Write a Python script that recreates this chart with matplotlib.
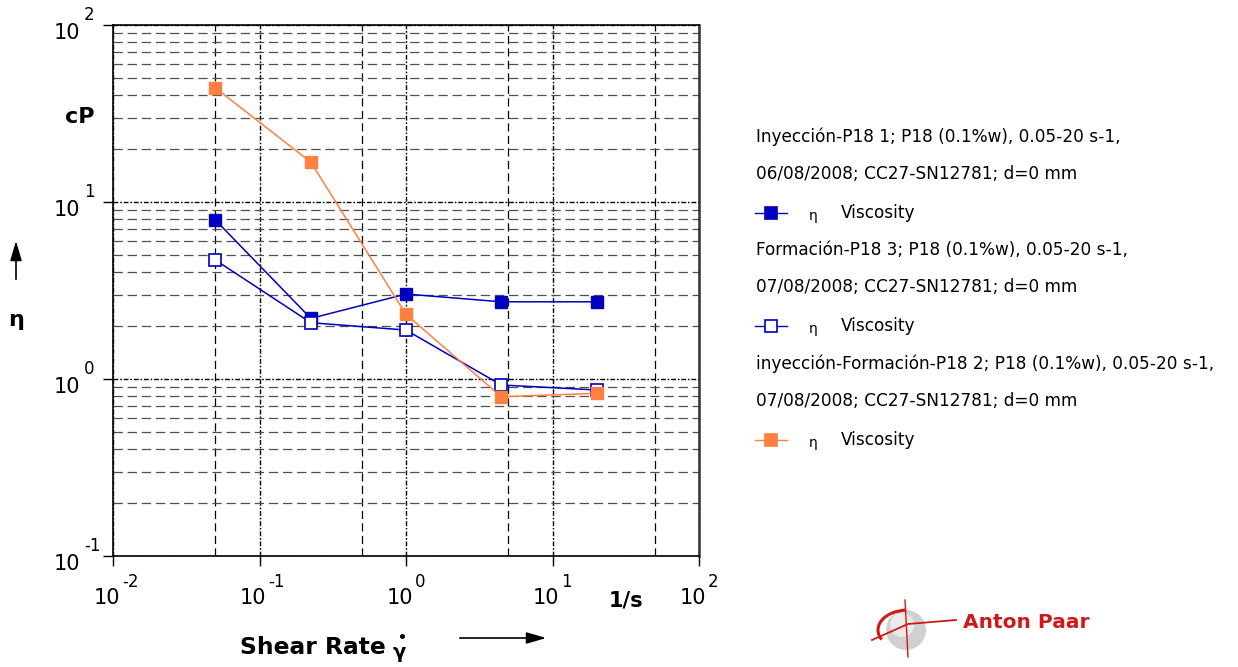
import numpy as np
import matplotlib
matplotlib.use('Agg')
import matplotlib.pyplot as plt
from matplotlib.ticker import LogLocator, FixedLocator, NullFormatter
from matplotlib.lines import Line2D
from matplotlib.patches import Circle, Arc

# ── Datos ─────────────────────────────────────────────────────────────────────
shear_rate = [0.05, 0.224, 1.0, 4.47, 20.0]            # 1/s
visc_iny   = [7.91, 2.20, 3.02, 2.73, 2.73]            # cP, Inyección-P18 1
visc_form  = [4.70, 2.08, 1.89, 0.925, 0.867]          # cP, Formación-P18 3
visc_mix   = [44.1, 16.8, 2.32, 0.794, 0.83]           # cP, inyección-Formación-P18 2

legend_lines = [
    ("Inyección-P18 1; P18 (0.1%w), 0.05-20 s-1,",
     "06/08/2008; CC27-SN12781; d=0 mm"),
    ("Formación-P18 3; P18 (0.1%w), 0.05-20 s-1,",
     "07/08/2008; CC27-SN12781; d=0 mm"),
    ("inyección-Formación-P18 2; P18 (0.1%w), 0.05-20 s-1,",
     "07/08/2008; CC27-SN12781; d=0 mm"),
]
x_exps = [-2, -1, 0, 1, 2]
y_exps = [-1, 0, 1, 2]

BLUE = '#0000BF'
ORANGE = '#FF8040'
W, H = 1238, 667

fig = plt.figure(figsize=(W / 100, H / 100), dpi=100)
ax = fig.add_axes([113 / W, 1 - 556 / H, (699 - 113) / W, (556 - 25) / H])
ax.set_xscale('log')
ax.set_yscale('log')
ax.set_xlim(1e-2, 1e2)
ax.set_ylim(1e-1, 1e2)

ax.xaxis.set_major_locator(FixedLocator([10.0 ** e for e in x_exps]))
ax.yaxis.set_major_locator(FixedLocator([10.0 ** e for e in y_exps]))
ax.xaxis.set_minor_locator(FixedLocator([0.05, 0.5, 5, 50]))
ax.yaxis.set_minor_locator(LogLocator(base=10, subs=np.arange(2, 10), numticks=20))
ax.xaxis.set_minor_formatter(NullFormatter())
ax.yaxis.set_minor_formatter(NullFormatter())
ax.tick_params(which='major', direction='out', length=7.5, width=1,
               labelleft=False, labelbottom=False)
ax.tick_params(which='minor', length=0)

# rejilla
ax.grid(which='major', color='black', lw=1.0, ls=(0, (3.5, 1.3, 1.2, 1.3)))
ax.xaxis.grid(which='minor', color='black', lw=0.9, ls=(0, (6.5, 3.5)))
ax.yaxis.grid(which='minor', color='#505050', lw=0.9, ls=(0, (7.5, 3.8)))
ax.set_axisbelow(True)
for s in ['left', 'bottom', 'top']:
    ax.spines[s].set_linewidth(1.2)
ax.spines['right'].set_linewidth(1.8)
ax.spines['right'].set_color('#333333')

# series
ax.plot(shear_rate, visc_iny, color=BLUE, lw=1.1, marker='s', ms=8.6,
        mfc=BLUE, mec=BLUE, zorder=3)
ax.plot(shear_rate, visc_form, color=BLUE, lw=1.1, marker='s', ms=8.2,
        mfc='white', mec=BLUE, mew=1.2, zorder=4)
ax.plot(shear_rate, visc_mix, color=ORANGE, lw=1.1, marker='s', ms=8.6,
        mfc=ORANGE, mec=ORANGE, zorder=5)

# etiquetas de ejes tipo 10^n
for e in y_exps:
    ax.annotate('10', xy=(0, 10.0 ** e), xycoords=('axes fraction', 'data'),
                xytext=(-33, -8), textcoords='offset pixels',
                ha='right', va='center', fontsize=15)
    ax.annotate(str(e), xy=(0, 10.0 ** e), xycoords=('axes fraction', 'data'),
                xytext=(-29, 10), textcoords='offset pixels',
                ha='left', va='center', fontsize=12)
for e in x_exps:
    ax.annotate('10', xy=(10.0 ** e, 0), xycoords=('data', 'axes fraction'),
                xytext=(7, -42), textcoords='offset pixels',
                ha='right', va='center', fontsize=15)
    ax.annotate(str(e), xy=(10.0 ** e, 0), xycoords=('data', 'axes fraction'),
                xytext=(9, -26), textcoords='offset pixels',
                ha='left', va='center', fontsize=12)

def fx(px):
    return px / W

def fy(py):
    return 1 - py / H

fig.text(fx(80), fy(117), 'cP', ha='center', va='center', fontsize=16, fontweight='bold')
fig.text(fx(16), fy(320), 'η', ha='center', va='center', fontsize=16, fontweight='bold')
fig.text(fx(626), fy(600), '1/s', ha='center', va='center', fontsize=15, fontweight='bold')
fig.text(fx(240), fy(648), 'Shear Rate', ha='left', va='center', fontsize=16.8, fontweight='bold')
fig.text(fx(399), fy(653), 'γ', ha='center', va='center', fontsize=14, fontweight='bold')
# punto de la derivada sobre gamma
fig.add_artist(Line2D([fx(402)], [fy(636)], transform=fig.transFigure,
                      marker='o', ms=2.6, color='black', lw=0))

arrow = dict(arrowstyle='-|>,head_length=1.2,head_width=0.35', color='black', lw=1.2)
ax.annotate('', xy=(16, H - 238), xycoords='figure pixels',
            xytext=(16, H - 282), textcoords='figure pixels', arrowprops=arrow)
ax.annotate('', xy=(549, H - 638), xycoords='figure pixels',
            xytext=(457, H - 638), textcoords='figure pixels', arrowprops=arrow)

# leyenda
styles = [dict(mfc=BLUE, mec=BLUE, color=BLUE),
          dict(mfc='white', mec=BLUE, color=BLUE),
          dict(mfc=ORANGE, mec=ORANGE, color=ORANGE)]
row_y = [137, 250, 364]
for (l1, l2), st, y0 in zip(legend_lines, styles, row_y):
    fig.text(fx(756), fy(y0), l1, ha='left', va='center', fontsize=12.2)
    fig.text(fx(756), fy(y0 + 37), l2, ha='left', va='center', fontsize=12.2)
    ym = y0 + 76
    fig.add_artist(Line2D([fx(755), fx(771), fx(787)], [fy(ym)] * 3,
                          transform=fig.transFigure, lw=1.0, color=st['color'],
                          marker='s', markevery=[1], ms=8.6, mfc=st['mfc'],
                          mec=st['mec'], mew=1.2))
    fig.text(fx(813), fy(ym + 3), 'η', ha='center', va='center', fontsize=10)
    fig.text(fx(841), fy(ym), 'Viscosity', ha='left', va='center', fontsize=12.2)

# logo Anton Paar
lg = fig.add_axes([fx(868), fy(660), 90 / W, 66 / H])
lg.set_xlim(0, 90)
lg.set_ylim(0, 66)
lg.axis('off')
lg.add_patch(Circle((38, 30), 20, fc='#d0d0d0', ec='none'))
lg.add_patch(Circle((34, 35), 12, fc='#ebebeb', ec='none'))
lg.add_patch(Arc((40, 30), 60, 40, theta1=95, theta2=200, color='#d01818', lw=2.2))
lg.plot([4, 40, 88], [20, 36, 40], color='#d01818', lw=1.3)
lg.plot([37, 40], [60, 3], color='#d01818', lw=1.0)
fig.text(fx(963), fy(622), 'Anton Paar', ha='left', va='center', fontsize=14.5,
         fontweight='bold', color='#d01818')

fig.savefig('out.png', dpi=100)
